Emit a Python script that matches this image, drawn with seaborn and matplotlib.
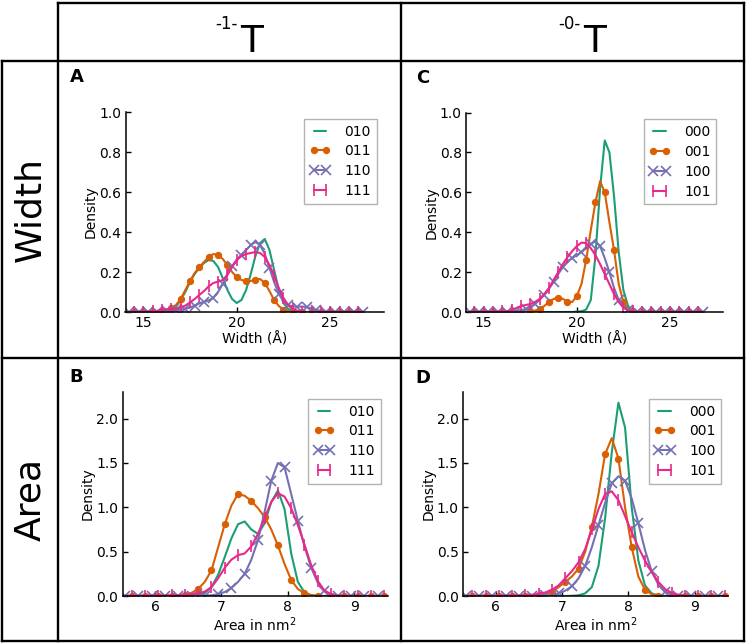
import seaborn as sns
import matplotlib.pyplot as plt
from matplotlib.lines import Line2D

# x grids the densities were read on
width_x = [14.25, 14.5, 14.75, 15.0, 15.25, 15.5, 15.75, 16.0, 16.25, 16.5,
           16.75, 17.0, 17.25, 17.5, 17.75, 18.0, 18.25, 18.5, 18.75, 19.0,
           19.25, 19.5, 19.75, 20.0, 20.25, 20.5, 20.75, 21.0, 21.25, 21.5,
           21.75, 22.0, 22.25, 22.5, 22.75, 23.0, 23.25, 23.5, 23.75, 24.0,
           24.25, 24.5, 24.75, 25.0, 25.25, 25.5, 25.75, 26.0, 26.25, 26.5, 26.75]
area_x = [5.55, 5.65, 5.75, 5.85, 5.95, 6.05, 6.15, 6.25, 6.35, 6.45,
          6.55, 6.65, 6.75, 6.85, 6.95, 7.05, 7.15, 7.25, 7.35, 7.45,
          7.55, 7.65, 7.75, 7.85, 7.95, 8.05, 8.15, 8.25, 8.35, 8.45,
          8.55, 8.65, 8.75, 8.85, 8.95, 9.05, 9.15, 9.25, 9.35, 9.45]

# panel A, width, -1- T
wA_010 = [0, 0, 0, 0, 0, 0, 0, 0, 0.003, 0.008,
          0.025, 0.06, 0.1, 0.15, 0.19, 0.22, 0.245, 0.26, 0.255, 0.225,
          0.17, 0.11, 0.065, 0.045, 0.06, 0.11, 0.19, 0.28, 0.345, 0.365,
          0.31, 0.21, 0.11, 0.045, 0.015, 0.005, 0, 0, 0, 0,
          0, 0, 0, 0, 0, 0, 0, 0, 0, 0, 0]
wA_011 = [0, 0, 0.001, 0.001, 0.001, 0.002, 0.002, 0.004, 0.008, 0.018,
          0.035, 0.065, 0.11, 0.155, 0.195, 0.225, 0.25, 0.275, 0.29, 0.285,
          0.265, 0.235, 0.2, 0.175, 0.16, 0.155, 0.155, 0.162, 0.165, 0.145,
          0.105, 0.06, 0.03, 0.012, 0.004, 0.001, 0, 0, 0, 0,
          0, 0, 0, 0, 0, 0, 0, 0, 0, 0, 0]
wA_110 = [0, 0.001, 0.001, 0.001, 0.001, 0.001, 0.002, 0.002, 0.003, 0.004,
          0.008, 0.012, 0.016, 0.022, 0.032, 0.043, 0.05, 0.058, 0.072, 0.1,
          0.14, 0.19, 0.23, 0.26, 0.285, 0.31, 0.335, 0.35, 0.335, 0.29,
          0.22, 0.15, 0.09, 0.055, 0.035, 0.028, 0.027, 0.027, 0.025, 0.018,
          0.01, 0.005, 0.002, 0.001, 0.001, 0.001, 0, 0, 0, 0, 0]
wA_111 = [0, 0.001, 0.001, 0.002, 0.002, 0.003, 0.006, 0.01, 0.014, 0.015,
          0.017, 0.022, 0.032, 0.048, 0.065, 0.085, 0.105, 0.128, 0.145, 0.152,
          0.16, 0.185, 0.225, 0.26, 0.28, 0.29, 0.295, 0.3, 0.295, 0.275,
          0.235, 0.18, 0.12, 0.07, 0.035, 0.015, 0.006, 0.002, 0, 0,
          0, 0, 0, 0, 0, 0, 0, 0, 0, 0, 0]

# panel C, width, -0- T
wC_000 = [0, 0, 0, 0, 0, 0, 0, 0, 0, 0,
          0, 0, 0, 0, 0, 0, 0, 0, 0, 0,
          0, 0, 0, 0.002, 0.004, 0.012, 0.06, 0.28, 0.62, 0.86,
          0.8, 0.58, 0.3, 0.11, 0.03, 0.006, 0.001, 0, 0, 0,
          0, 0, 0, 0, 0, 0, 0, 0, 0, 0, 0]
wC_001 = [0, 0, 0, 0, 0, 0.001, 0.001, 0.001, 0.001, 0.001,
          0.002, 0.002, 0.002, 0.003, 0.007, 0.014, 0.03, 0.05, 0.065, 0.072,
          0.066, 0.052, 0.05, 0.08, 0.14, 0.26, 0.41, 0.55, 0.655, 0.6,
          0.45, 0.31, 0.14, 0.05, 0.015, 0.005, 0.001, 0, 0, 0,
          0, 0, 0, 0, 0, 0, 0, 0, 0, 0, 0]
wC_100 = [0, 0.001, 0.001, 0.001, 0.001, 0.001, 0.002, 0.002, 0.002, 0.003,
          0.005, 0.008, 0.015, 0.025, 0.04, 0.06, 0.085, 0.115, 0.15, 0.19,
          0.225, 0.255, 0.27, 0.285, 0.3, 0.32, 0.34, 0.355, 0.33, 0.27,
          0.2, 0.12, 0.06, 0.025, 0.01, 0.004, 0.002, 0.001, 0.001, 0.001,
          0, 0, 0, 0, 0, 0, 0, 0, 0, 0, 0]
wC_101 = [0, 0, 0.001, 0.001, 0.001, 0.002, 0.002, 0.003, 0.004, 0.008,
          0.02, 0.03, 0.035, 0.04, 0.05, 0.065, 0.09, 0.12, 0.16, 0.2,
          0.24, 0.275, 0.305, 0.33, 0.348, 0.345, 0.32, 0.285, 0.24, 0.19,
          0.14, 0.09, 0.05, 0.022, 0.008, 0.003, 0, 0, 0, 0,
          0, 0, 0, 0, 0, 0, 0, 0, 0, 0, 0]

# panel B, area, -1- T
aB_010 = [0, 0, 0, 0, 0, 0, 0, 0, 0, 0,
          0.005, 0.012, 0.035, 0.1, 0.24, 0.44, 0.65, 0.81, 0.84, 0.75,
          0.7, 0.82, 1.06, 1.19, 0.98, 0.48, 0.16, 0.04, 0.01, 0,
          0, 0, 0, 0, 0, 0, 0, 0, 0, 0]
aB_011 = [0.002, 0.002, 0.002, 0.002, 0.002, 0.003, 0.004, 0.005, 0.008, 0.015,
          0.035, 0.08, 0.16, 0.29, 0.55, 0.81, 1.02, 1.15, 1.13, 1.07,
          0.99, 0.89, 0.75, 0.57, 0.36, 0.18, 0.08, 0.03, 0.01, 0.003,
          0, 0, 0, 0, 0, 0, 0, 0, 0, 0]
aB_110 = [0.001, 0.001, 0.001, 0.001, 0.001, 0.002, 0.002, 0.002, 0.002, 0.003,
          0.003, 0.004, 0.005, 0.008, 0.02, 0.045, 0.09, 0.16, 0.25, 0.41,
          0.63, 0.95, 1.3, 1.5, 1.45, 1.15, 0.85, 0.56, 0.32, 0.15,
          0.06, 0.02, 0.005, 0.001, 0.001, 0, 0, 0, 0, 0]
aB_111 = [0.002, 0.002, 0.003, 0.003, 0.004, 0.005, 0.006, 0.008, 0.01, 0.015,
          0.02, 0.03, 0.05, 0.1, 0.2, 0.32, 0.41, 0.46, 0.48, 0.56,
          0.7, 0.88, 1.06, 1.16, 1.12, 0.99, 0.8, 0.58, 0.35, 0.17,
          0.06, 0.02, 0.005, 0, 0, 0, 0, 0, 0, 0]

# panel D, area, -0- T
aD_000 = [0, 0, 0, 0, 0, 0, 0, 0, 0, 0,
          0, 0, 0, 0, 0, 0, 0.002, 0.008, 0.03, 0.1,
          0.34, 0.88, 1.62, 2.18, 1.9, 1.0, 0.4, 0.12, 0.03, 0.005,
          0, 0, 0, 0, 0, 0, 0, 0, 0, 0]
aD_001 = [0, 0, 0.001, 0.001, 0.001, 0.002, 0.002, 0.002, 0.003, 0.004,
          0.005, 0.01, 0.02, 0.05, 0.1, 0.16, 0.22, 0.31, 0.5, 0.78,
          1.15, 1.6, 1.78, 1.55, 1.0, 0.55, 0.22, 0.07, 0.02, 0.005,
          0, 0, 0, 0, 0, 0, 0, 0, 0, 0]
aD_100 = [0.001, 0.001, 0.001, 0.001, 0.001, 0.002, 0.002, 0.002, 0.003, 0.004,
          0.005, 0.006, 0.008, 0.01, 0.03, 0.06, 0.11, 0.2, 0.34, 0.55,
          0.8, 1.05, 1.27, 1.35, 1.3, 1.1, 0.82, 0.52, 0.28, 0.13,
          0.05, 0.02, 0.005, 0.001, 0.001, 0.001, 0, 0, 0, 0]
aD_101 = [0.001, 0.001, 0.002, 0.002, 0.002, 0.003, 0.003, 0.004, 0.005, 0.01,
          0.015, 0.025, 0.04, 0.07, 0.12, 0.2, 0.28, 0.38, 0.53, 0.75,
          0.98, 1.15, 1.18, 1.08, 0.9, 0.72, 0.55, 0.4, 0.27, 0.16,
          0.08, 0.035, 0.015, 0.005, 0, 0, 0, 0, 0, 0]

labels_1 = ['010', '011', '110', '111']
labels_0 = ['000', '001', '100', '101']
col_titles = ['-1-', '-0-']
row_titles = ['Width', 'Area']
panel_letters = ['A', 'C', 'B', 'D']

colors = sns.color_palette('Dark2', 4)
styles = [dict(marker=None),
          dict(marker='o', ms=4.5, markevery=(1, 2)),
          dict(marker='x', ms=7, mew=1.2, markevery=(0, 2)),
          dict(marker='|', ms=8, mew=1.2, markevery=(1, 2))]

sns.set_style('ticks')
plt.rcParams.update({
    'font.family': ['DejaVu Sans'],
    'font.size': 10,
    'text.color': 'black',
    'axes.labelcolor': 'black',
    'axes.edgecolor': 'black',
    'xtick.color': 'black',
    'ytick.color': 'black',
    'axes.linewidth': 1.1,
    'xtick.direction': 'in',
    'ytick.direction': 'in',
    'xtick.major.size': 3.5,
    'ytick.major.size': 3.5,
    'xtick.major.width': 1,
    'ytick.major.width': 1,
    'xtick.labelsize': 10,
    'ytick.labelsize': 10,
    'axes.labelsize': 10,
})

W, H = 747, 644
fig = plt.figure(figsize=(W / 100, H / 100), dpi=100)


def px_axes(left, right, top, bottom):
    return fig.add_axes([left / W, 1 - bottom / H, (right - left) / W, (bottom - top) / H])


def line(x0, y0, x1, y1):
    fig.add_artist(Line2D([x0 / W, x1 / W], [1 - y0 / H, 1 - y1 / H],
                          transform=fig.transFigure, color='black', lw=1.7,
                          solid_capstyle='projecting'))


def draw_panel(ax, x, ys, labels, kind):
    for y, lab, c, st in zip(ys, labels, colors, styles):
        kw = dict(st)
        if kw['marker'] is not None:
            kw['mec'] = c
            kw['mfc'] = c
        sns.lineplot(x=x, y=y, ax=ax, color=c, lw=1.5, label=lab, **kw)
    sns.despine(ax=ax)
    if kind == 'width':
        ax.set_xlim(14.05, 27.85)
        ax.set_ylim(0, 1.0)
        ax.set_xticks([15, 20, 25])
        ax.set_yticks([0, 0.2, 0.4, 0.6, 0.8, 1.0])
        ax.set_xlabel('Width (Å)', labelpad=1)
    else:
        ax.set_xlim(5.51, 9.5)
        ax.set_ylim(0, 2.3)
        ax.set_xticks([6, 7, 8, 9])
        ax.set_yticks([0, 0.5, 1.0, 1.5, 2.0])
        ax.set_xlabel('Area in nm$^2$', labelpad=1)
    ax.set_yticklabels([f'{t:.1f}' for t in ax.get_yticks()])
    ax.set_ylabel('Density', labelpad=1)
    ax.tick_params(pad=3)
    leg = ax.legend(loc='upper right', numpoints=2, fancybox=False, framealpha=1,
                    edgecolor='0.7', fontsize=10, handlelength=1.5, handletextpad=1.0,
                    labelspacing=0.42, borderpad=0.4, borderaxespad=0.5)
    leg.get_frame().set_linewidth(1.0)


axA = px_axes(125.5, 383.5, 112, 312)
axC = px_axes(466, 723, 112.5, 312)
axB = px_axes(122.5, 387.5, 392, 596)
axD = px_axes(463, 728, 392, 596)

draw_panel(axA, width_x, [wA_010, wA_011, wA_110, wA_111], labels_1, 'width')
draw_panel(axC, width_x, [wC_000, wC_001, wC_100, wC_101], labels_0, 'width')
draw_panel(axB, area_x, [aB_010, aB_011, aB_110, aB_111], labels_1, 'area')
draw_panel(axD, area_x, [aD_000, aD_001, aD_100, aD_101], labels_0, 'area')

# panel letters
for lab, (px, py) in zip(panel_letters, [(70, 82), (416, 83), (69, 382), (415, 383)]):
    fig.text(px / W, 1 - py / H, lab, fontsize=13, fontweight='bold', ha='left', va='baseline')

# column headers
for t, cx in zip(col_titles, [229.5, 572.5]):
    fig.text((cx + 8) / W, 1 - 29 / H, t, fontsize=12, ha='right', va='baseline')
    fig.text((cx + 11) / W, 1 - 52 / H, 'T', fontsize=27, ha='left', va='baseline')

# row headers
for t, cy in zip(row_titles, [209.5, 499.5]):
    fig.text(30 / W, 1 - cy / H, t, fontsize=26, rotation=90, ha='center', va='center')

# table grid
line(58, 3, 744, 3)
line(2, 61, 744, 61)
line(2, 358, 744, 358)
line(2, 641, 744, 641)
line(2, 61, 2, 641)
line(58, 3, 58, 641)
line(401, 3, 401, 641)
line(744, 3, 744, 641)

fig.savefig('out.png', dpi=100)
